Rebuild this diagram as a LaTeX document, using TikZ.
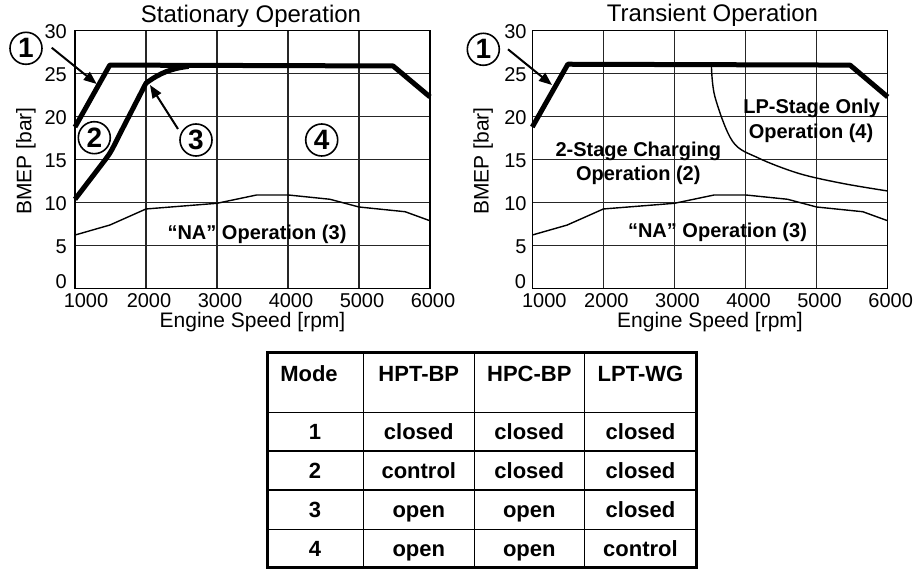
\documentclass[tikz,border=0pt]{standalone}
\usepackage{fontspec}
\setmainfont{Liberation Sans}
\usetikzlibrary{arrows.meta}
\begin{document}
\begin{tikzpicture}[x=1pt,y=1pt,
  gridline/.style={line width=1.1pt, black!85},
  framebox/.style={line width=1.4pt, black},
  thickcurve/.style={line width=5pt, line join=round, black},
  thincurve/.style={line width=1.4pt, line join=round, black},
  tick/.style={font=\fontsize{20}{20}\selectfont, inner sep=0pt},
  axtitle/.style={font=\fontsize{21}{21}\selectfont, inner sep=0pt},
  ptitle/.style={font=\fontsize{24}{24}\selectfont, inner sep=0pt, anchor=base},
  region/.style={font=\bfseries\fontsize{20}{20}\selectfont, inner sep=0pt, anchor=base},
  modecirc/.style={circle, draw, line width=1.6pt, minimum size=32pt, inner sep=0pt, font=\bfseries\fontsize{28}{28}\selectfont},
  pointer/.style={line width=2pt, -{Triangle[length=13pt,width=10pt]}},
  tabtxt/.style={font=\bfseries\fontsize{22}{22}\selectfont, inner sep=0pt, anchor=base},
  tabthin/.style={line width=1.2pt, black},
  tabthick/.style={line width=3pt, black},
]
\useasboundingbox[fill=white] (0,0) rectangle (914,-569);

% ---------------- Left chart ----------------
\begin{scope}[shift={(75pt,-288.7pt)}, x=71pt, y=8.6pt]
  \foreach \i in {1,2,3,4} \draw[gridline] (\i,0) -- (\i,30);
  \foreach \j in {5,10,15,20,25} \draw[gridline] (0,\j) -- (5,\j);
  \draw[framebox] (0,0) rectangle (5,30);
  \foreach \j in {5,10,15,20,25,30} \node[tick,anchor=east] (Ly\j) at ([xshift=-8pt,yshift=-0.8pt]0,\j) {\j};
  \node[tick,anchor=south east] (Ly0) at ([xshift=-8pt]0,0) {0};
  \node[tick,anchor=base] (Lx0) at ([xshift=11pt,yshift=-19.2pt]0,0) {1000};
  \foreach \i/\l in {1/2000,2/3000,3/4000,4/5000,5/6000}
    \node[tick,anchor=base] (Lx\i) at ([xshift=3pt,yshift=-19.2pt]\i,0) {\l};
  \node[axtitle,anchor=base] (Lxt) at ([yshift=-39.3pt]2.5,0) {Engine Speed [rpm]};
  \node[axtitle,rotate=90] (Lyt) at ([xshift=-49pt]0,14.85) {BMEP [bar]};
  % NA line
  \draw[thincurve] (0,6.24) -- (0.49,7.4) -- (1.0,9.27) -- (2.0,9.93) -- (2.56,10.9) -- (3.0,10.9)
     -- (3.59,10.4) -- (4.0,9.5) -- (4.65,8.95) -- (5.0,7.9);
  % mode 1 full-load line
  \draw[thickcurve] (0,18.8) -- (0.49,26) -- (4.48,25.9) -- (5,22.3);
  % mode 2/3 line
  \draw[thickcurve] (0,10.4) -- (0.38,14.5) .. controls (0.5,15.8) .. (0.62,17.8) -- (1.0,23.9)
     .. controls (1.2,25.1) and (1.35,25.6) .. (1.6,25.85);
\end{scope}

% ---------------- Right chart ----------------
\begin{scope}[shift={(532.3pt,-288.7pt)}, x=71.08pt, y=8.6pt]
  \foreach \i in {1,2,3,4} \draw[gridline] (\i,0) -- (\i,30);
  \foreach \j in {5,10,15,20,25} \draw[gridline] (0,\j) -- (5,\j);
  \draw[framebox] (0,0) rectangle (5,30);
  \foreach \j in {5,10,15,20,25,30} \node[tick,anchor=east] (Ry\j) at ([xshift=-5.6pt,yshift=-0.8pt]0,\j) {\j};
  \node[tick,anchor=south east] (Ry0) at ([xshift=-6pt]0,0) {0};
  \node[tick,anchor=base] (Rx0) at ([xshift=12pt,yshift=-19.2pt]0,0) {1000};
  \foreach \i/\l in {1/2000,2/3000,3/4000,4/5000,5/6000}
    \node[tick,anchor=base] (Rx\i) at ([xshift=3pt,yshift=-19.2pt]\i,0) {\l};
  \node[axtitle,anchor=base] (Rxt) at ([yshift=-39.3pt]2.5,0) {Engine Speed [rpm]};
  \node[axtitle,rotate=90] (Ryt) at ([xshift=-49pt]0,14.85) {BMEP [bar]};
  % NA line
  \draw[thincurve] (0,6.24) -- (0.49,7.4) -- (1.0,9.27) -- (2.0,9.93) -- (2.56,10.9) -- (3.0,10.9)
     -- (3.59,10.4) -- (4.0,9.5) -- (4.65,8.95) -- (5.0,7.9);
  % LP-stage boundary
  \draw[thincurve] plot[smooth, tension=0.55] coordinates
     {(2.52,26) (2.57,22.3) (2.82,17.1) (3.18,15.2) (3.75,13.4) (4.36,12.25) (5,11.36)};
  % mode 1 full-load line
  \draw[thickcurve] (0,18.8) -- (0.5,26.1) -- (4.47,26) -- (5,22.3);
\end{scope}

% ---------------- Titles ----------------
\node[ptitle] (Ltitle) at (251,-23) {Stationary Operation};
\node[ptitle] (Rtitle) at (712.5,-22) {Transient Operation};

% ---------------- Region labels ----------------
\node[region] (Lna) at (257,-240) {“NA” Operation (3)};
\node[region] (Rna) at (717.5,-237.3) {“NA” Operation (3)};
\node[region] (R2a) at (638.3,-156.7) {2-Stage Charging};
\node[region] (R2b) at (638.3,-180.7) {Operation (2)};
\node[region] (R4a) at (811.7,-113.3) {LP-Stage Only};
\node[region] (R4b) at (811,-138.3) {Operation (4)};

% ---------------- Circled mode numbers and pointers ----------------
\node[modecirc] (Lc1) at (26,-48.3) {1};
\node[modecirc] (Lc2) at (94.3,-137.7) {2};
\node[modecirc] (Lc3) at (196,-140) {3};
\node[modecirc] (Lc4) at (321.7,-140) {4};
\node[modecirc] (Rc1) at (483.3,-49.3) {1};

\coordinate (Lt1) at (51.7,-47.7);
\coordinate (Lh1) at (96.7,-84);
\coordinate (Lt3) at (178,-129);
\coordinate (Lh3) at (150,-85);
\coordinate (Rt1) at (508,-49.3);
\coordinate (Rh1) at (552,-85);
\draw[pointer] (Lt1) -- (Lh1);
\draw[pointer] (Lt3) -- (Lh3);
\draw[pointer] (Rt1) -- (Rh1);

% ---------------- Table ----------------
\foreach \x in {363.3,474.3,584.3} \draw[tabthin] (\x,-352.5) -- (\x,-567);
\foreach \y in {412.3,451,490,529.3} \draw[tabthin] (267.3,-\y) -- (696.5,-\y);
\draw[tabthick] (267.3,-352.5) rectangle (696.5,-567);

\node[tabtxt] (h0) at (309,-381.7) {Mode};
\node[tabtxt] (h1) at (418.8,-381.7) {HPT-BP};
\node[tabtxt] (h2) at (529.3,-381.7) {HPC-BP};
\node[tabtxt] (h3) at (640.5,-381.7) {LPT-WG};

\foreach \r/\yb/\a/\b/\c in {1/440/closed/closed/closed, 2/478.7/control/closed/closed,
                              3/517.5/open/open/closed, 4/556.5/open/open/control} {
  \node[tabtxt] (m\r) at (315,-\yb) {\r};
  \node[tabtxt] (a\r) at (418.8,-\yb) {\a};
  \node[tabtxt] (b\r) at (529.3,-\yb) {\b};
  \node[tabtxt] (c\r) at (640.5,-\yb) {\c};
}
\end{tikzpicture}
\end{document}
